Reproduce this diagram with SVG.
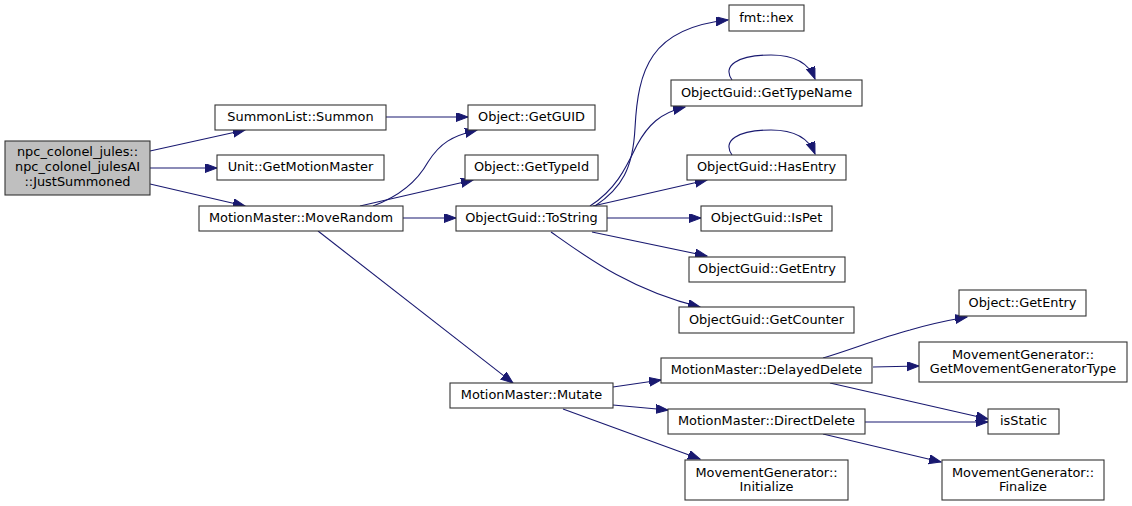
<svg xmlns="http://www.w3.org/2000/svg" width="1132" height="506" viewBox="0 0 1132 506">
<style>
.n rect{fill:#ffffff;stroke:#333333;stroke-width:1.1}
.n.root rect{fill:#bfbfbf}
.n text{font-family:"DejaVu Sans","Liberation Sans",sans-serif;font-size:12.9px;fill:#000000;text-anchor:middle}
.e path{fill:none;stroke:#191970;stroke-width:1.1;marker-end:url(#arr)}
</style>
<defs>
<marker id="arr" markerWidth="14" markerHeight="10" refX="12" refY="4.5" orient="auto" markerUnits="userSpaceOnUse">
<path d="M0,0 L12,4.5 L0,9 z" fill="#191970" stroke="#191970" stroke-width="1"/>
</marker>
</defs>
<rect width="1132" height="506" fill="#ffffff"/>
<g id="edges" class="e">
<path d="M150,151 L245,130"/>
<path d="M150,168 L217,168"/>
<path d="M150,184 L245,206"/>
<path d="M386,117 L468,117"/>
<path d="M373,206 C400,196 418,180 428,162 C440,143 452,136 477,130"/>
<path d="M360,206 L473,180"/>
<path d="M403,218 L456,218"/>
<path d="M318,231 L513,383"/>
<path d="M595,206 C622,188 633,168 635,128 C638,70 650,28 728,20"/>
<path d="M590,206 C615,190 625,170 637,145 C648,125 660,113 685,107"/>
<path d="M593,206 L707,180"/>
<path d="M607,218 L701,218"/>
<path d="M592,232 L707,256"/>
<path d="M551,232 C585,256 630,290 700,307"/>
<path d="M732,80 C722,66 737,55 771,55 C798,55 810,66 815,79"/>
<path d="M732,155 C722,141 737,130 771,130 C798,130 810,141 815,154"/>
<path d="M613,387 L661,380"/>
<path d="M613,405 L668,410"/>
<path d="M563,409 L700,459"/>
<path d="M823,358 C850,350 880,338 910,330 C930,324 950,320 967,317"/>
<path d="M873,367 L919,366"/>
<path d="M830,383 L988,419"/>
<path d="M865,422 L988,422"/>
<path d="M823,434 L941,462"/>
</g>
<g id="n_root" class="n root"><rect x="5" y="141" width="145" height="54"/><text x="77.5" y="156">npc_colonel_jules::</text><text x="77.5" y="171">npc_colonel_julesAI</text><text x="77.5" y="186">::JustSummoned</text></g>
<g id="n_summon" class="n"><rect x="215" y="105" width="171" height="25"/><text x="300.5" y="121">SummonList::Summon</text></g>
<g id="n_getmm" class="n"><rect x="217" y="155" width="167" height="25"/><text x="300.5" y="171">Unit::GetMotionMaster</text></g>
<g id="n_moverandom" class="n"><rect x="199" y="206" width="204" height="25"/><text x="301" y="222">MotionMaster::MoveRandom</text></g>
<g id="n_getguid" class="n"><rect x="468" y="105" width="127" height="25"/><text x="531.5" y="121">Object::GetGUID</text></g>
<g id="n_gettypeid" class="n"><rect x="465" y="155" width="133" height="25"/><text x="531.5" y="171">Object::GetTypeId</text></g>
<g id="n_tostring" class="n"><rect x="456" y="206" width="151" height="25"/><text x="531.5" y="222">ObjectGuid::ToString</text></g>
<g id="n_mutate" class="n"><rect x="450" y="383" width="163" height="25"/><text x="531.5" y="399">MotionMaster::Mutate</text></g>
<g id="n_hex" class="n"><rect x="729" y="5" width="75" height="26"/><text x="766.5" y="22">fmt::hex</text></g>
<g id="n_gettypename" class="n"><rect x="671" y="80" width="191" height="26"/><text x="766.5" y="97">ObjectGuid::GetTypeName</text></g>
<g id="n_hasentry" class="n"><rect x="687" y="155" width="159" height="25"/><text x="766.5" y="171">ObjectGuid::HasEntry</text></g>
<g id="n_ispet" class="n"><rect x="701" y="206" width="131" height="25"/><text x="766.5" y="222">ObjectGuid::IsPet</text></g>
<g id="n_getentry" class="n"><rect x="689" y="257" width="156" height="25"/><text x="767" y="273">ObjectGuid::GetEntry</text></g>
<g id="n_getcounter" class="n"><rect x="679" y="307" width="175" height="26"/><text x="766.5" y="324">ObjectGuid::GetCounter</text></g>
<g id="n_delayed" class="n"><rect x="661" y="358" width="211" height="25"/><text x="766.5" y="374">MotionMaster::DelayedDelete</text></g>
<g id="n_direct" class="n"><rect x="668" y="409" width="197" height="25"/><text x="766.5" y="425">MotionMaster::DirectDelete</text></g>
<g id="n_initialize" class="n"><rect x="685" y="460" width="163" height="40"/><text x="766.5" y="477">MovementGenerator::</text><text x="766.5" y="491">Initialize</text></g>
<g id="n_objgetentry" class="n"><rect x="959" y="290" width="127" height="26"/><text x="1022.5" y="307">Object::GetEntry</text></g>
<g id="n_getmgt" class="n"><rect x="919" y="342" width="208" height="40"/><text x="1023" y="359">MovementGenerator::</text><text x="1023" y="373">GetMovementGeneratorType</text></g>
<g id="n_isstatic" class="n"><rect x="988" y="409" width="71" height="25"/><text x="1023.5" y="425">isStatic</text></g>
<g id="n_finalize" class="n"><rect x="942" y="460" width="162" height="40"/><text x="1023" y="477">MovementGenerator::</text><text x="1023" y="491">Finalize</text></g>
</svg>
